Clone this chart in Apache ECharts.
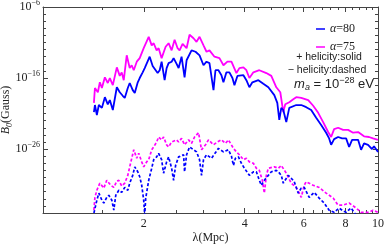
<!DOCTYPE html>
<html><head><meta charset="utf-8">
<script src="https://cdn.jsdelivr.net/npm/echarts@6/dist/echarts.min.js"></script>
<style>html,body{margin:0;padding:0;background:#fff}#c{width:384px;height:244px}</style>
</head><body><div id="c"></div>
<script>
// [lambda (Mpc), log10 B0 (Gauss)]
const alpha75Plus = [[1.419,-19.5],[1.429,-17.4],[1.458,-18.0],[1.478,-16.6],[1.499,-17.4],[1.530,-15.9],[1.561,-16.7],[1.583,-16.0],[1.616,-17.0],[1.661,-14.5],[1.695,-15.7],[1.718,-15.2],[1.742,-16.3],[1.778,-12.8],[1.815,-14.6],[1.840,-14.2],[1.866,-14.9],[1.905,-13.7],[1.944,-13.2],[1.998,-11.8],[2.068,-10.2],[2.111,-11.4],[2.140,-11.1],[2.184,-12.1],[2.214,-11.8],[2.260,-13.2],[2.291,-13.0],[2.323,-11.6],[2.371,-11.1],[2.421,-12.1],[2.471,-10.6],[2.522,-11.8],[2.557,-12.1],[2.610,-11.2],[2.646,-11.1],[2.683,-11.8],[2.738,-9.9],[2.814,-10.4],[2.873,-10.9],[2.933,-10.2],[3.014,-11.4],[3.077,-12.3],[3.140,-12.1],[3.250,-13.0],[3.363,-13.2],[3.456,-14.2],[3.552,-13.7],[3.652,-13.7],[3.779,-15.3],[3.857,-14.6],[3.965,-14.5],[4.047,-14.9],[4.131,-16.0],[4.246,-15.2],[4.424,-14.9],[4.642,-15.3],[4.803,-15.7],[4.971,-17.3],[5.109,-18.0],[5.215,-20.8],[5.287,-19.7],[5.434,-19.4],[5.585,-19.0],[5.701,-18.7],[5.900,-18.8],[6.190,-19.1],[6.405,-19.9],[6.629,-20.9],[6.859,-22.2],[7.098,-23.6],[7.246,-24.3],[7.396,-23.2],[7.602,-23.0],[7.867,-23.3],[8.143,-23.3],[8.427,-23.7],[8.721,-23.6],[9.085,-24.2],[9.402,-24.3],[9.663,-24.5],[10,-24.7]];
const alpha80Plus = [[1.419,-20.8],[1.429,-19.8],[1.448,-21.2],[1.468,-19.8],[1.499,-20.2],[1.530,-18.7],[1.561,-19.7],[1.583,-19.1],[1.616,-20.5],[1.661,-17.3],[1.695,-18.0],[1.730,-18.5],[1.754,-18.8],[1.791,-17.4],[1.815,-16.7],[1.853,-17.7],[1.879,-18.1],[1.918,-16.6],[1.944,-16.0],[1.984,-15.2],[2.012,-14.6],[2.082,-13.0],[2.125,-14.3],[2.154,-14.5],[2.199,-15.3],[2.230,-14.9],[2.260,-13.7],[2.307,-16.3],[2.339,-14.6],[2.371,-13.9],[2.421,-13.7],[2.454,-13.2],[2.505,-14.0],[2.540,-14.6],[2.592,-13.0],[2.646,-15.9],[2.683,-13.5],[2.776,-12.1],[2.853,-12.3],[2.933,-12.8],[3.014,-14.2],[3.077,-13.7],[3.140,-13.9],[3.228,-17.7],[3.272,-14.9],[3.340,-14.9],[3.409,-15.6],[3.456,-16.6],[3.528,-15.2],[3.601,-15.2],[3.677,-16.0],[3.728,-17.0],[3.805,-15.7],[3.965,-15.6],[4.047,-16.3],[4.131,-17.3],[4.217,-16.6],[4.394,-16.3],[4.547,-16.8],[4.706,-17.3],[4.903,-18.4],[5.005,-19.5],[5.074,-21.9],[5.144,-20.2],[5.215,-20.5],[5.324,-22.2],[5.434,-20.2],[5.509,-20.1],[5.701,-19.8],[5.900,-19.8],[6.105,-20.1],[6.318,-20.5],[6.538,-21.6],[6.766,-22.6],[7.002,-23.7],[7.147,-24.5],[7.246,-25.4],[7.396,-24.6],[7.602,-24.3],[7.813,-24.5],[8.032,-24.5],[8.199,-25.7],[8.369,-24.7],[8.721,-24.7],[8.902,-26.1],[9.085,-25.2],[9.338,-25.4],[9.597,-26.0],[9.730,-25.6],[10,-26.4]];
const alpha75Minus = [[1.419,-34.6],[1.429,-32.8],[1.448,-31.8],[1.478,-30.8],[1.519,-31.5],[1.550,-30.4],[1.594,-31.1],[1.627,-31.4],[1.661,-30.5],[1.684,-30.4],[1.718,-31.2],[1.754,-30.8],[1.791,-29.7],[1.815,-28.5],[1.866,-26.1],[1.905,-27.3],[1.931,-26.6],[1.971,-27.8],[1.998,-28.5],[2.039,-27.8],[2.068,-27.5],[2.111,-26.1],[2.140,-25.7],[2.184,-25.0],[2.214,-24.3],[2.260,-24.7],[2.291,-24.3],[2.339,-25.4],[2.371,-25.7],[2.421,-25.0],[2.454,-25.2],[2.505,-24.7],[2.540,-25.0],[2.592,-24.5],[2.646,-25.4],[2.720,-24.7],[2.776,-25.2],[2.834,-24.3],[2.913,-23.7],[2.973,-26.1],[3.056,-25.4],[3.119,-24.7],[3.228,-25.4],[3.317,-25.0],[3.409,-24.7],[3.504,-25.2],[3.577,-24.7],[3.702,-25.9],[3.779,-26.4],[3.857,-26.8],[3.965,-27.5],[4.047,-27.3],[4.131,-27.8],[4.246,-28.0],[4.334,-28.7],[4.424,-29.0],[4.516,-30.4],[4.578,-32.2],[4.642,-29.7],[4.706,-28.7],[4.903,-28.5],[5.040,-28.7],[5.144,-28.3],[5.324,-29.4],[5.509,-30.8],[5.701,-31.4],[5.819,-32.2],[5.900,-32.8],[6.022,-31.1],[6.105,-30.6],[6.405,-31.1],[6.674,-31.4],[7.002,-32.2],[7.346,-32.9],[7.602,-33.9],[7.867,-33.9],[8.199,-33.6],[8.602,-34.3],[8.902,-34.9],[9.402,-34.9],[9.663,-34.6],[10,-34.9]];
const alpha80Minus = [[1.419,-35.0],[1.448,-33.2],[1.468,-32.2],[1.499,-33.2],[1.519,-33.6],[1.550,-32.8],[1.572,-32.5],[1.605,-33.2],[1.627,-34.6],[1.649,-32.5],[1.684,-31.8],[1.718,-32.1],[1.754,-31.4],[1.791,-31.8],[1.815,-30.8],[1.853,-29.7],[1.879,-28.5],[1.918,-29.2],[1.944,-29.9],[1.971,-31.1],[1.998,-33.2],[2.012,-35.3],[2.026,-32.9],[2.068,-30.4],[2.111,-28.7],[2.140,-27.5],[2.184,-27.1],[2.214,-26.6],[2.260,-27.5],[2.291,-29.4],[2.339,-27.8],[2.371,-27.1],[2.421,-28.7],[2.454,-30.4],[2.488,-28.3],[2.540,-27.1],[2.628,-26.8],[2.646,-29.2],[2.683,-26.8],[2.738,-25.7],[2.814,-26.1],[2.873,-26.4],[2.933,-27.5],[2.973,-29.7],[3.014,-27.5],[3.077,-26.8],[3.184,-27.3],[3.228,-27.1],[3.340,-25.9],[3.456,-26.4],[3.577,-26.1],[3.652,-27.0],[3.702,-28.3],[3.753,-27.3],[3.831,-27.1],[3.911,-28.0],[3.992,-28.7],[4.131,-29.7],[4.246,-29.2],[4.334,-29.2],[4.424,-30.4],[4.485,-31.1],[4.578,-30.4],[4.706,-29.7],[4.803,-29.2],[4.971,-29.0],[5.040,-29.2],[5.144,-29.7],[5.215,-30.8],[5.397,-29.7],[5.509,-30.1],[5.623,-30.6],[5.780,-32.2],[5.900,-31.5],[6.022,-31.4],[6.232,-32.8],[6.449,-32.1],[6.674,-32.9],[6.907,-33.6],[7.147,-34.6],[7.396,-34.9],[7.654,-34.3],[7.867,-34.7],[8.032,-34.9],[8.312,-34.3],[8.602,-35.3],[8.781,-36.7]];

const xTickLabels = [2, 4, 6, 8, 10];
const xMinorTicks = [1.5, 2.5, 3, 3.5, 4.4, 4.8, 5.2, 5.6, 6.4, 6.8, 7.2, 7.6, 8.4, 8.8, 9.2, 9.6];
const yTickLabels = [1e-26, 1e-16, 1e-6];
const yMinorTicks = [1e-35,1e-34,1e-33,1e-32,1e-31,1e-30,1e-29,1e-28,1e-27,1e-25,1e-24,1e-23,1e-22,1e-21,1e-20,1e-19,1e-18,1e-17,1e-15,1e-14,1e-13,1e-12,1e-11,1e-10,1e-9,1e-8,1e-7];
const legendNames = ['α=80', 'α=75'];

const BLUE = '#0000ff', MAG = '#ff00ff', FRAME = '#444';
const SERIF = '"Liberation Serif", "DejaVu Serif", serif';
const SANS = '"Liberation Sans", Arial, sans-serif';

function xAx(position, ticks, len, labels, line) {
  const a = {
    type: 'log', logBase: 10, min: 1, max: 10, position: position,
    axisLine: { show: line, onZero: false, lineStyle: { color: FRAME, width: 1 } },
    axisTick: { show: true, inside: true, length: len, customValues: ticks, lineStyle: { color: FRAME, width: 1 } },
    axisLabel: { show: !!labels },
    splitLine: { show: false }, minorTick: { show: false }, minorSplitLine: { show: false }
  };
  if (labels) {
    a.axisLabel = { show: true, customValues: labels, margin: 5, color: '#222', fontFamily: SERIF, fontSize: 12,
      formatter: v => String(Math.round(v)) };
    a.name = 'λ(Mpc)'; a.nameLocation = 'middle'; a.nameGap = 19; a.nameMoveOverlap = false;
    a.nameTextStyle = { fontFamily: SERIF, fontSize: 12, color: '#222' };
  }
  return a;
}
function yAx(position, ticks, len, labels, line) {
  const a = {
    type: 'log', logBase: 10, min: 1e-35, max: 1e-6, position: position,
    axisLine: { show: line, onZero: false, lineStyle: { color: FRAME, width: 1 } },
    axisTick: { show: true, inside: true, length: len, customValues: ticks, lineStyle: { color: FRAME, width: 1 } },
    axisLabel: { show: !!labels },
    splitLine: { show: false }, minorTick: { show: false }, minorSplitLine: { show: false }
  };
  if (labels) {
    a.axisLabel = { show: true, customValues: labels, margin: 3, color: '#222', fontFamily: SERIF,
      formatter: v => { const e = Math.round(Math.log10(v)); return '{b|10}{s|' + (e < 0 ? '−' : '') + Math.abs(e) + '}'; },
      rich: { b: { fontFamily: SERIF, fontSize: 12, lineHeight: 16, color: '#222' },
              s: { fontFamily: SERIF, fontSize: 8, lineHeight: 8, verticalAlign: 'top', color: '#222' } } };
    a.name = '{i|B}{sb|0}(Gauss)'; a.nameLocation = 'middle'; a.nameGap = 29; a.nameMoveOverlap = false;
    a.nameTextStyle = { fontFamily: SERIF, fontSize: 12, lineHeight: 16, color: '#222',
      rich: { i: { fontFamily: SERIF, fontSize: 12, lineHeight: 16, fontStyle: 'italic', color: '#222' },
              sb: { fontFamily: SERIF, fontSize: 8, lineHeight: 8, verticalAlign: 'bottom', fontStyle: 'italic', color: '#222' } } };
  }
  return a;
}
function ser(name, data, color, dashed) {
  return {
    type: 'line', name: name, xAxisIndex: 0, yAxisIndex: 0,
    data: data.map(p => [p[0], Math.pow(10, p[1])]),
    symbol: 'none', showSymbol: false, clip: true, silent: true, animation: false,
    lineStyle: { color: color, width: dashed ? 1.7 : 1.8, type: dashed ? [3, 2] : 'solid' },
    itemStyle: { color: color }
  };
}

const chart = echarts.init(document.getElementById('c'), null, { renderer: 'canvas' });
chart.setOption({
  animation: false,
  backgroundColor: '#fff',
  grid: { left: 43, right: 6, top: 7, bottom: 31, containLabel: false, outerBoundsMode: 'none' },
  xAxis: [
    xAx('bottom', xTickLabels, 5, xTickLabels, true),
    xAx('bottom', xMinorTicks, 3, null, false),
    xAx('top', xTickLabels, 5, null, true),
    xAx('top', xMinorTicks, 3, null, false)
  ],
  yAxis: [
    yAx('left', yTickLabels, 5, yTickLabels, true),
    yAx('left', yMinorTicks, 3, null, false),
    yAx('right', yTickLabels, 5, null, true),
    yAx('right', yMinorTicks, 3, null, false)
  ],
  legend: {
    data: legendNames, orient: 'vertical', left: 311, top: 17, itemGap: 4,
    icon: 'rect', itemWidth: 9, itemHeight: 1.5, selectedMode: false,
    textStyle: { fontFamily: SERIF, fontSize: 12, lineHeight: 14, color: '#222',
      rich: { i: { fontFamily: SERIF, fontSize: 12, fontStyle: 'italic', color: '#222' } } },
    formatter: n => '{i|α}' + n.slice(1)
  },
  graphic: [
    { type: 'text', x: 329, y: 57, style: { text: '+ helicity:solid', font: '10.5px ' + SANS, fill: '#222', align: 'center', verticalAlign: 'middle' } },
    { type: 'text', x: 327, y: 70, style: { text: '− helicity:dashed', font: '10.5px ' + SANS, fill: '#222', align: 'center', verticalAlign: 'middle' } },
    { type: 'text', x: 334, y: 84, style: {
        text: '{i|m}{sb|a}{n| = 10}{sp|−28}{n| eV}', align: 'center', verticalAlign: 'middle',
        rich: {
          i: { fontFamily: SANS, fontSize: 13, lineHeight: 16, fontStyle: 'italic', fill: '#222' },
          sb: { fontFamily: SANS, fontSize: 9, lineHeight: 8, fontStyle: 'italic', verticalAlign: 'bottom', fill: '#222' },
          n: { fontFamily: SANS, fontSize: 13, lineHeight: 16, fill: '#222' },
          sp: { fontFamily: SANS, fontSize: 9, lineHeight: 8, verticalAlign: 'top', fill: '#222' }
        } } }
  ],
  series: [
    ser('α=75', alpha75Plus, MAG, false),
    ser('α=80', alpha80Plus, BLUE, false),
    ser('α=75 −', alpha75Minus, MAG, true),
    ser('α=80 −', alpha80Minus, BLUE, true)
  ]
});
</script>
</body></html>
